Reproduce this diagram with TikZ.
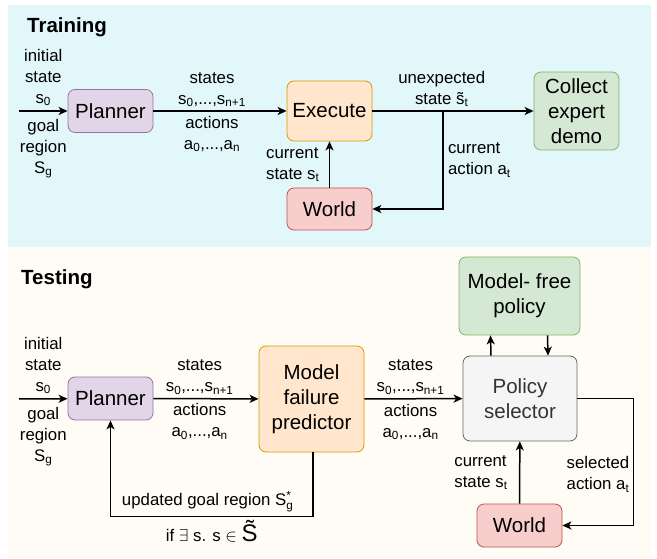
\documentclass[tikz,border=0pt]{standalone}
\usepackage{amsmath}
\usepackage{fontspec}
\setmainfont{Liberation Sans}
\usetikzlibrary{arrows.meta}

\definecolor{trainbg}{HTML}{E2F7FA}
\definecolor{testbg}{HTML}{FEFCF4}
\definecolor{planfill}{HTML}{E1D5E7}
\definecolor{planline}{HTML}{9673A6}
\definecolor{execfill}{HTML}{FFE6CC}
\definecolor{execline}{HTML}{D79B00}
\definecolor{worldfill}{HTML}{F8CECC}
\definecolor{worldline}{HTML}{B85450}
\definecolor{greenfill}{HTML}{D5E8D4}
\definecolor{greenline}{HTML}{82B366}
\definecolor{grayfill}{HTML}{F5F5F5}
\definecolor{grayline}{HTML}{666666}

\begin{document}
\begin{tikzpicture}[> = {Stealth[length = 9pt, width = 8pt, inset = 2.5pt]}, x = 1pt, y = -1pt,
	box/.style = {draw, rounded corners = 7pt, line width = 0.8pt, inner sep = 0pt,
		align = center, font = \fontsize{20.5}{25}\selectfont},
	lbl/.style = {font = \fontsize{16.8}{21}\selectfont, align = center},
	title/.style = {font = \bfseries\fontsize{20.5}{24}\selectfont, anchor = west, inner sep = 0pt},
	flow/.style = {->, line width = 1.5pt}]

	% Panels
	
	\useasboundingbox (0, 0) rectangle (657, 559);
	\fill [trainbg] (8, 5) rectangle (651, 247);
	\fill [testbg] (8, 247) rectangle (651, 559);
	
	\node [title] (train) at (27, 27) {Training};
	\node [title] (test) at (21, 279) {Testing};
	
	% Training loop
	
	\coordinate (in1) at (19, 111);
	\coordinate (split) at (443, 111);
	
	\node [box, fill = planfill, draw = planline, minimum width = 85, minimum height = 43] (plan1) at (110.5, 111) {Planner};
	\node [box, fill = execfill, draw = execline, minimum width = 85, minimum height = 60] (exec1) at (329.5, 111) {Execute};
	\node [box, fill = worldfill, draw = worldline, minimum width = 85, minimum height = 42] (world1) at (329.5, 209) {World};
	\node [box, fill = greenfill, draw = greenline, minimum width = 85, minimum height = 78] (demo) at (576.5, 111) {Collect\\expert\\demo};
	
	\draw [flow] (in1) -- node [lbl, above = 1pt] {initial\\state\\s\textsubscript{0}} node [lbl, below = 4pt] {goal\\region\\S\textsubscript{g}} (plan1);
	\draw [flow] (plan1) -- node [lbl, above, pos = 0.44] {states\\s\textsubscript{0},...,s\textsubscript{n+1}} node [lbl, below = 1pt, pos = 0.44] {actions\\a\textsubscript{0},...,a\textsubscript{n}} (exec1);
	\draw [flow] (world1) -- node [lbl, left = 6pt, align = left] {current\\state s\textsubscript{t}} (exec1);
	\draw [flow] (exec1) -- node [lbl, above, pos = 0.43] {unexpected\\state \~{s}\textsubscript{t}} (demo);
	\draw [flow] (split) |- node [lbl, right = 1pt, align = left, pos = 0.25] {current\\action a\textsubscript{t}} (world1);
	
	% Testing loop
	
	\coordinate (in2) at (19, 399);
	
	\node [box, fill = planfill, draw = planline, minimum width = 85, minimum height = 43] (plan2) at (110.5, 398.5) {Planner};
	\node [box, fill = execfill, draw = execline, minimum width = 105, minimum height = 106] (mfp) at (311.5, 399) {Model\\failure\\predictor};
	\node [box, fill = grayfill, draw = grayline, text = black!80, minimum width = 114, minimum height = 85] (ps) at (520, 398.5) {Policy\\selector};
	\node [box, fill = greenfill, draw = greenline, minimum width = 121, minimum height = 78] (mf) at (519.5, 296) {Model- free\\policy};
	\node [box, fill = worldfill, draw = worldline, minimum width = 85, minimum height = 43] (world2) at (519.5, 525.5) {World};
	
	\draw [flow] (in2) -- node [lbl, above = 1pt] {initial\\state\\s\textsubscript{0}} node [lbl, below = 4pt] {goal\\region\\S\textsubscript{g}} (plan2);
	\draw [flow] (plan2) -- node [lbl, above, pos = 0.44] {states\\s\textsubscript{0},...,s\textsubscript{n+1}} node [lbl, below = 1pt, pos = 0.44] {actions\\a\textsubscript{0},...,a\textsubscript{n}} (mfp);
	\draw [flow] (mfp) -- node [lbl, above, pos = 0.47] {states\\s\textsubscript{0},...,s\textsubscript{n+1}} node [lbl, below = 1pt, pos = 0.47] {actions\\a\textsubscript{0},...,a\textsubscript{n}} (ps);
	\draw [flow] ([xshift = 1.5] mfp.south) -- ++(0, 64) -| node [lbl, above, pos = 0.26] {updated goal region S$^{\text{*}}_{\text{g}}$} node [lbl, below, pos = 0.25] {if $\exists$ s. s $\in$ {\fontsize{24}{24}\selectfont\~{S}}} (plan2);
	
	\draw [flow] ([xshift = -29] ps.north) -- ([xshift = -29] mf.south);
	\draw [flow] ([xshift = 28] mf.south) -- ([xshift = 28] ps.north);
	\draw [flow] (world2) -- node [lbl, left = 8pt, align = left] {current\\state s\textsubscript{t}} (ps);
	\draw [flow] (ps.east) -- ++(56, 0) |- node [lbl, left, align = left, pos = 0.3] {selected\\action a\textsubscript{t}} (world2);

\end{tikzpicture}
\end{document}
